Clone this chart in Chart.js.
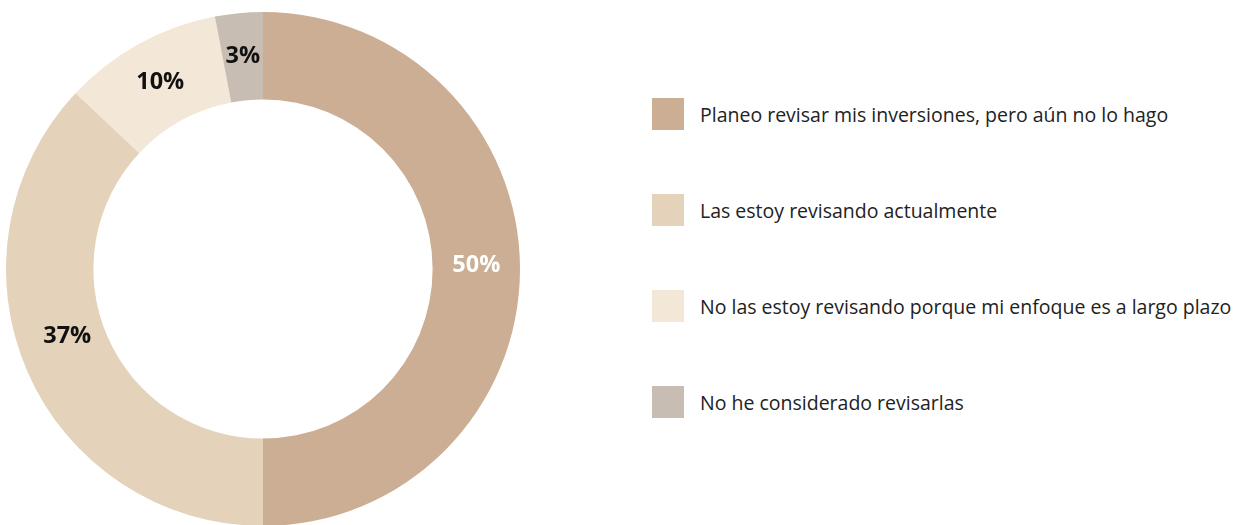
<!DOCTYPE html>
<html>
<head>
<meta charset="utf-8">
<script src="https://cdn.jsdelivr.net/npm/chart.js@4"></script>
<style>
  body { margin: 0; background: #fff; width: 1245px; height: 525px; overflow: hidden; position: relative; font-family: "Open Sans", sans-serif; }
  #chartBox { position: absolute; left: 6px; top: 12px; width: 514px; height: 514px; }
  #legend { position: absolute; left: 652px; top: 98px; }
  .item { display: flex; align-items: center; height: 32px; margin-bottom: 64px; }
  .box { width: 32px; height: 32px; margin-right: 16px; }
  .txt { font-size: 19.5px; color: #222; white-space: nowrap; }
</style>
</head>
<body>
<div id="chartBox"><canvas id="donut"></canvas></div>
<div id="legend"></div>
<script>
// Datos de la encuesta
const labels = [
    'Planeo revisar mis inversiones, pero aún no lo hago',
    'Las estoy revisando actualmente',
    'No las estoy revisando porque mi enfoque es a largo plazo',
    'No he considerado revisarlas'
];
const values = [50, 37, 10, 3];
const colors = ['#CBAE93', '#E4D2BA', '#F3E7D8', '#C8BDB2'];
const labelColors = ['#ffffff', '#111111', '#111111', '#111111'];
// pequeño ajuste vertical de las etiquetas (px)
const labelShiftY = [-4, -17, 0, 0];

// Etiquetas de porcentaje dentro de cada segmento
const pctLabels = {
    id: 'pctLabels',
    afterDatasetsDraw(chart) {
        const ctx = chart.ctx;
        const meta = chart.getDatasetMeta(0);
        ctx.save();
        ctx.font = 'bold 23.5px "Open Sans", sans-serif';
        ctx.textAlign = 'center';
        ctx.textBaseline = 'middle';
        meta.data.forEach((arc, i) => {
            const p = arc.getCenterPoint();
            ctx.fillStyle = labelColors[i];
            ctx.fillText(values[i] + '%', p.x, p.y + labelShiftY[i]);
        });
        ctx.restore();
    }
};

const donutCtx = document.getElementById('donut').getContext('2d');
const donutChart = new Chart(donutCtx, {
    type: 'doughnut',
    data: {
        labels: labels,
        datasets: [{
            data: values,
            backgroundColor: colors,
            borderWidth: 0
        }]
    },
    options: {
        responsive: true,
        maintainAspectRatio: false,
        animation: false,
        cutout: '66%',
        layout: { padding: 0 },
        plugins: {
            legend: { display: false },
            tooltip: { enabled: false }
        }
    },
    plugins: [pctLabels]
});

// Leyenda a la derecha
const legend = document.getElementById('legend');
labels.forEach((l, i) => {
    const item = document.createElement('div');
    item.className = 'item';
    item.innerHTML = '<div class="box" style="background:' + colors[i] + '"></div><span class="txt">' + l + '</span>';
    legend.appendChild(item);
});
</script>
</body>
</html>
